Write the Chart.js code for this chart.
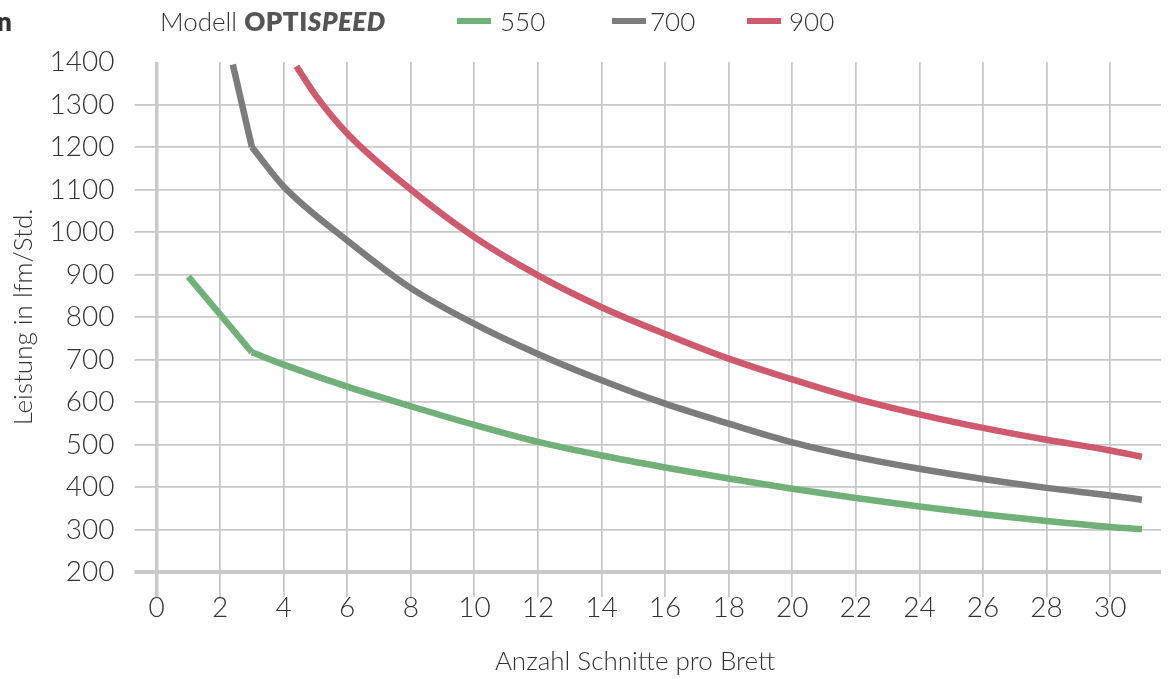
<!DOCTYPE html>
<html lang="de">
<head>
    <meta charset="UTF-8">
    <title>Leistung OPTISPEED</title>
    <script src="https://cdn.jsdelivr.net/npm/chart.js"></script>
    <style>
        html, body { margin: 0; padding: 0; background: #fff; }
        .wrap { position: relative; width: 1172px; height: 679px; overflow: hidden; }
        .head { position: absolute; top: 6px; font-family: Lato, "Open Sans", sans-serif; font-weight: 300; font-size: 26px; color: #333; line-height: 30px; white-space: nowrap; }
        .head b { font-weight: 800; color: #555; letter-spacing: 0.5px; }
        .swatch { position: absolute; top: 18px; height: 6px; }
        .cut { position: absolute; top: 6px; left: -3px; font: 800 26px Lato, sans-serif; color: #333; line-height: 30px; }
    </style>
</head>
<body>
<div class="wrap">
    <span class="cut">n</span>
    <span class="head" style="left:160px">Modell <b>OPTI<i>SPEED</i></b></span>
    <div id="legend"></div>
    <canvas id="chart" width="1172" height="679"></canvas>
</div>
<script>
// Modell 550 / 700 / 900 : Leistung (lfm/Std.) über Anzahl Schnitte
const seriesNames = ['550', '700', '900'];
const seriesColors = ['#72b07a', '#7c7c7c', '#cf5a6d'];

const x550 = [1, 3, 4, 6, 8, 10, 12, 14, 16, 18, 20, 22, 24, 26, 28, 30, 31];
const y550 = [895, 717, 688, 636, 590, 546, 506, 474, 446, 420, 396, 374, 354, 336, 320, 306, 301];

const x700 = [2.4, 3, 4, 6, 8, 10, 12, 14, 16, 18, 20, 22, 24, 26, 28, 30, 31];
const y700 = [1394, 1200, 1107, 980, 868, 784, 713, 651, 596, 549, 505, 471, 443, 419, 398, 380, 370];

const x900 = [4.4, 5, 6, 8, 10, 12, 14, 16, 18, 20, 22, 24, 26, 28, 30, 31];
const y900 = [1390, 1322, 1232, 1100, 988, 898, 823, 760, 702, 653, 608, 571, 539, 511, 486, 471];

// Knick am Ende des steilen Anfangsstücks (Index im jeweiligen Array, -1 = kein Knick)
const kinks = [1, 1, -1];

const xTicks = [0, 2, 4, 6, 8, 10, 12, 14, 16, 18, 20, 22, 24, 26, 28, 30];
const xTitle = 'Anzahl Schnitte pro Brett';
const yTitle = 'Leistung in lfm/Std.';

// legend (html, so that "Modell OPTISPEED" can be mixed bold/italic)
const legendPos = [[457, 500], [612, 650], [747, 789]];
const legend = document.getElementById('legend');
seriesNames.forEach(function (name, i) {
    const sw = document.createElement('span');
    sw.className = 'swatch';
    sw.style.left = legendPos[i][0] + 'px';
    sw.style.width = '34px';
    sw.style.background = seriesColors[i];
    legend.appendChild(sw);
    const lb = document.createElement('span');
    lb.className = 'head';
    lb.style.left = legendPos[i][1] + 'px';
    lb.textContent = name;
    legend.appendChild(lb);
});

const allX = [x550, x700, x900];
const allY = [y550, y700, y900];
const datasets = [];
allX.forEach(function (xs, i) {
    const pts = xs.map(function (x, j) { return { x: x, y: allY[i][j] }; });
    const k = kinks[i];
    const base = {
        label: seriesNames[i],
        borderColor: seriesColors[i],
        borderWidth: 6.5,
        pointRadius: 0,
        fill: false,
        borderCapStyle: 'butt',
        borderJoinStyle: 'round'
    };
    if (k > 0) {
        datasets.push(Object.assign({}, base, { data: pts.slice(0, k + 1), tension: 0 }));
        datasets.push(Object.assign({}, base, { data: pts.slice(k), cubicInterpolationMode: 'monotone' }));
    } else {
        datasets.push(Object.assign({}, base, { data: pts, cubicInterpolationMode: 'monotone' }));
    }
});

const gridColor = '#c9c9c9';
const fontFamily = 'Lato, "Open Sans", sans-serif';
const tickFont = { family: fontFamily, size: 28, weight: '300' };
const titleFont = { family: fontFamily, size: 26, weight: '300' };

// x-axis title sits left of the plot centre in the original, so draw it by hand
const xTitlePlugin = {
    id: 'xTitle',
    afterDraw: function (chart) {
        const c = chart.ctx;
        c.save();
        c.font = '300 26px ' + fontFamily;
        c.fillStyle = '#333';
        c.textAlign = 'center';
        c.textBaseline = 'middle';
        c.fillText(xTitle, 635, 662);
        c.restore();
    }
};

new Chart(document.getElementById('chart'), {
    type: 'line',
    data: { datasets: datasets },
    plugins: [xTitlePlugin],
    options: {
        responsive: false,
        animation: false,
        layout: { padding: { top: 62, right: 11, left: 0, bottom: 0 } },
        plugins: { legend: { display: false }, tooltip: { enabled: false } },
        scales: {
            x: {
                type: 'linear',
                min: 0,
                max: 31.6,
                afterBuildTicks: function (scale) {
                    scale.ticks = xTicks.map(function (v) { return { value: v }; });
                },
                afterFit: function (scale) { scale.height = 107; },
                border: { display: false },
                grid: {
                    color: gridColor,
                    lineWidth: function (ctx) { return ctx.tick && ctx.tick.value === 0 ? 3.5 : 1.8; },
                    tickLength: 25
                },
                ticks: { font: tickFont, color: '#333', padding: -6, maxRotation: 0 },
                title: { display: false }
            },
            y: {
                min: 200,
                max: 1400,
                ticks: {
                    stepSize: 100,
                    font: tickFont,
                    color: '#333',
                    padding: 20,
                    callback: function (v) { return String(v); }
                },
                afterFit: function (scale) { scale.width = 156.5; },
                border: { display: false },
                grid: {
                    color: function (ctx) { return ctx.tick && ctx.tick.value === 1400 ? 'rgba(0,0,0,0)' : gridColor; },
                    lineWidth: function (ctx) { return ctx.tick && ctx.tick.value === 200 ? 4 : 1.8; },
                    tickLength: 22
                },
                title: {
                    display: true,
                    text: yTitle,
                    font: titleFont,
                    color: '#333',
                    padding: { top: 8, bottom: 0 }
                }
            }
        }
    }
});
</script>
</body>
</html>
